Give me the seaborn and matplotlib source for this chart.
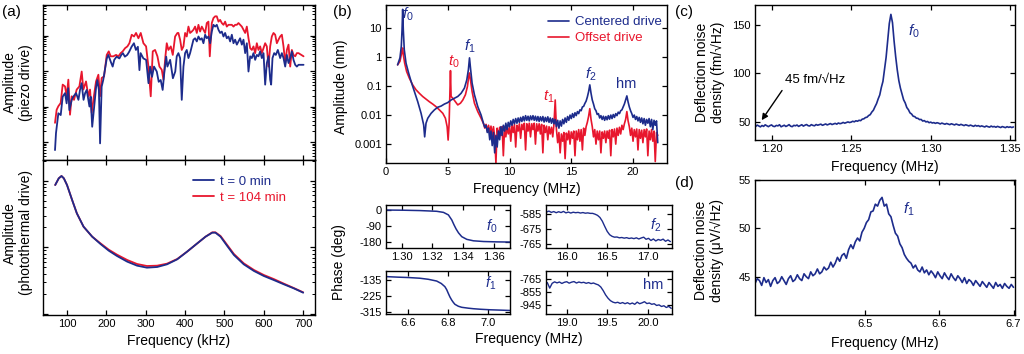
import numpy as np
import matplotlib
matplotlib.use("Agg")
import matplotlib.pyplot as plt
import seaborn as sns
from matplotlib.ticker import LogLocator, NullLocator, NullFormatter, FixedLocator

BLUE = "#1d2c8c"
RED = "#e8162d"

# ---------------- (a) piezo drive, log10 amplitude (a.u.) ----------------
piezo_blue_f = [69.5, 72, 78, 84, 89, 95, 99, 103, 106, 112, 116, 123, 129, 133, 137, 142, 146, 150, 157, 160,
                164, 169, 174, 177, 181, 184, 188, 192, 201, 205, 211, 216, 220, 226, 233, 238, 242, 247, 253, 258,
                264, 270, 275, 280, 284, 287, 294, 301, 307, 311, 316, 321, 328, 333, 338, 343, 347, 352, 355, 362,
                369, 375,
                378.8, 383, 387.3, 391.5, 395.8, 400, 404.2, 408.5, 412.7, 417, 421.2, 425.4, 429.7, 433.9, 438.1,
                442.4, 446.6, 450.9, 455.1, 459.3, 463.6, 467.8, 472, 476.3, 480.5, 484.8, 489, 493.2, 497.5, 501.7,
                505.9, 510.2, 514.4, 518.7, 522.9, 527.1, 531.4, 535.6, 539.8, 544.1, 548.3, 552.6, 556.8, 561,
                565.3, 569.5, 573.7, 578, 582.2, 586.4, 590.7, 594.9, 599.2, 603.4, 607.6, 611.9, 616.1, 618.6, 622,
                626.3, 630.5, 635.6, 641.5, 645.8, 650, 654.3, 658.5, 662.7, 667, 671.2, 675.4, 679.7, 683.9, 688.1,
                700.9]
piezo_blue_log = [0.77, 1.25, 1.81, 1.76, 2.28, 2.38, 2.09, 2.52, 1.90, 2.19, 2.28, 2.38, 2.19, 2.47, 2.66, 2.19,
                  2.38, 2.47, 2.00, 2.28, 1.43, 2.00, 2.56, 2.75, 2.47, 0.96, 2.56, 2.75, 3.36, 3.46, 3.27, 3.13,
                  3.32, 3.41, 3.36, 3.46, 3.51, 3.41, 3.46, 3.55, 3.69, 3.79, 3.60, 3.69, 3.03, 3.51, 3.36, 3.32,
                  2.66, 3.13, 2.84, 3.13, 2.99, 2.70, 2.75, 2.47, 2.94, 3.41, 3.13, 3.32, 2.80, 2.99,
                  3.42, 3.51, 3.37, 2.19, 3.13, 3.51, 3.60, 3.37, 3.51, 3.70, 3.89, 3.93, 3.84, 3.98, 3.89, 3.93,
                  3.79, 4.03, 3.93, 3.98, 3.79, 4.12, 4.31, 4.26, 4.31, 4.17, 4.08, 4.12, 3.98, 4.08, 3.93, 3.98,
                  3.84, 4.03, 3.79, 3.89, 3.75, 3.84, 3.93, 3.75, 3.89, 3.51, 3.79, 2.99, 3.42, 3.37, 3.51, 3.32,
                  3.46, 3.42, 3.56, 3.37, 3.51, 2.62, 3.23, 3.42, 2.76, 2.62, 3.37, 3.51, 3.46, 3.60, 3.37, 3.51,
                  3.37, 3.13, 3.46, 3.23, 3.37, 3.56, 3.32, 3.18, 3.13, 3.18, 3.18]

piezo_red_f = [69.5, 73.7, 78, 83.9, 89, 94.9, 99.2, 103.4, 107.6, 111.9, 117.8, 124.6, 131.4, 137.3, 141.5, 148.3,
               154.2, 158.5, 162.7, 167, 173.7, 179.7, 183.9, 188.1, 194.1, 200.9, 206, 211, 217.8, 224.6, 230.5,
               236.4, 241.5, 247.5, 253.4, 258.5, 264.4, 270.3, 275.4, 281.4, 287.3, 294.1, 300.9, 306.8, 312.7,
               317.8, 323.7, 329.7, 334.8, 340.7, 345, 350, 353.4, 357.6, 363.6, 368.7, 374.6, 380.5,
               383, 387.3, 391.5, 395.8, 400, 404.2, 408.5, 412.7, 417, 421.2, 425.4, 429.7, 433.9, 438.1, 442.4,
               446.6, 450.9, 455.1, 459.3, 462.7, 467.8, 472, 476.3, 480.5, 484.8, 489, 493.2, 497.5, 501.7, 505.9,
               510.2, 514.4, 518.7, 522.9, 527.1, 531.4, 535.6, 539.8, 544.1, 548.3, 552.6, 556.8, 561, 565.3,
               569.5, 573.7, 578, 582.2, 586.4, 590.7, 594.9, 599.2, 603.4, 607.6, 611.9, 616.1, 620.3, 624.6,
               628.8, 633.1, 637.3, 641.5, 645.8, 650, 654.3, 658.5, 662.7, 667, 671.2, 675.4, 679.7, 683.9,
               688.1, 700.9]
piezo_red_log = [1.54, 1.91, 2.01, 2.10, 2.62, 2.57, 2.29, 2.76, 1.77, 2.29, 2.19, 2.48, 2.57, 2.99, 2.48, 2.71,
                 2.29, 2.48, 1.82, 2.19, 2.71, 2.90, 2.29, 2.81, 2.85, 3.46, 3.56, 3.42, 3.42, 3.46, 3.42, 3.51,
                 3.56, 3.65, 3.70, 3.79, 4.03, 3.98, 4.08, 3.93, 4.08, 3.79, 3.70, 3.13, 2.29, 3.56, 3.60, 3.42,
                 3.13, 3.04, 2.76, 3.42, 3.79, 3.60, 3.70, 3.46, 3.98, 4.08,
                 4.08, 3.89, 3.60, 3.70, 4.08, 3.98, 4.26, 4.08, 4.12, 4.17, 4.26, 4.08, 4.31, 4.12, 4.26, 4.17,
                 4.08, 4.36, 4.40, 3.42, 4.36, 4.50, 4.55, 4.55, 4.40, 4.45, 4.36, 4.31, 4.40, 4.26, 4.31, 4.31,
                 4.31, 4.26, 4.31, 4.31, 4.36, 4.31, 4.26, 4.17, 4.08, 4.26, 3.93, 3.65, 3.60, 3.70, 3.51, 3.79,
                 3.60, 3.70, 3.51, 3.65, 3.79, 3.70, 3.13, 3.70, 3.98, 4.08, 4.03, 3.79, 3.89, 3.98, 4.03, 3.70,
                 3.23, 3.60, 3.75, 3.13, 3.60, 3.46, 3.42, 3.51, 3.51, 3.42]

# ---------------- (a) photothermal drive, log10 amplitude (a.u.) ----------------
photo_f = [70, 79, 86, 92, 100, 113, 125, 142, 164, 185, 206, 227, 253, 278, 303, 329, 354, 380, 405, 431,
           452, 469, 477, 490, 507, 524, 549, 575, 600, 625, 651, 676, 700]
photo_blue_log = [0.935, 1.035, 1.07, 1.035, 0.935, 0.71, 0.51, 0.31, 0.16, 0.05, -0.05, -0.13, -0.215, -0.275,
                  -0.305, -0.295, -0.255, -0.18, -0.065, 0.06, 0.16, 0.22, 0.22, 0.16, 0.02, -0.115, -0.255,
                  -0.355, -0.43, -0.49, -0.555, -0.615, -0.68]
photo_red_log = [0.935, 1.035, 1.07, 1.035, 0.935, 0.71, 0.51, 0.31, 0.16, 0.06, -0.035, -0.11, -0.19, -0.25,
                 -0.28, -0.275, -0.245, -0.175, -0.065, 0.06, 0.16, 0.225, 0.225, 0.17, 0.035, -0.10, -0.24,
                 -0.34, -0.415, -0.475, -0.545, -0.61, -0.675]
khz_ticks = [100, 200, 300, 400, 500, 600, 700]

# ---------------- (b) amplitude spectra, log10 amplitude (nm) ----------------
b_blue_f = [0.94, 1.13, 1.24, 1.30, 1.35, 1.40, 1.48, 1.62, 1.83, 2.03, 2.30, 2.57, 2.84, 3.05, 3.13, 3.24, 3.38,
            3.65, 3.92, 4.19, 4.46, 4.73, 5.00, 5.27, 5.54, 5.81, 6.08, 6.35, 6.54, 6.67, 6.76, 6.84, 6.97, 7.16,
            7.43, 7.70]
b_blue_log = [-0.27, -0.03, 0.37, 0.94, 1.64, 0.94, 0.25, -0.21, -0.55, -0.84, -1.19, -1.54, -1.94, -2.34, -2.75,
              -2.28, -2.11, -1.94, -1.82, -1.73, -1.69, -1.62, -1.57, -1.48, -1.42, -1.36, -1.25, -1.07, -0.79,
              -0.44, -0.03, -0.38, -0.90, -1.30, -1.71, -2.00]
b_red_f = [0.94, 1.13, 1.24, 1.30, 1.35, 1.40, 1.51, 1.67, 1.89, 2.16, 2.43, 2.70, 2.97, 3.24, 3.51, 3.78, 4.05,
           4.32, 4.60, 4.81, 4.95, 5.03, 5.11, 5.16, 5.22, 5.27, 5.41, 5.62, 5.81, 6.03, 6.22, 6.43, 6.59, 6.70,
           6.76, 6.84, 6.97, 7.16, 7.43, 7.70]
b_red_log = [-0.27, -0.15, 0.08, 0.25, 0.31, 0.08, -0.21, -0.50, -0.73, -0.96, -1.13, -1.25, -1.36, -1.45, -1.54,
             -1.62, -1.71, -1.82, -1.94, -2.11, -2.40, -2.86, -2.28, -1.48, -0.47, -1.36, -1.42, -1.54, -1.65,
             -1.59, -1.48, -1.30, -1.02, -0.67, -0.55, -0.79, -1.19, -1.59, -1.88, -2.11]
# noisy part, sampled every 0.1 MHz from 7.9 to 22.0 MHz
b_noise_start, b_noise_step = 7.9, 0.1
b_blue_noise_log = [
    -2.30, -2.42, -2.35, -2.60, -2.45, -2.85, -2.55, -3.05, -2.60, -3.30,
    -2.70, -3.10, -2.55, -2.85, -2.40, -2.70, -2.35, -2.55, -2.28, -2.50,
    -2.25, -2.40, -2.20, -2.35, -2.15, -2.30, -2.12, -2.28, -2.10, -2.25,
    -2.08, -2.22, -2.05, -2.20, -2.02, -2.18, -2.04, -2.20, -2.03, -2.16,
    -2.02, -2.18, -2.04, -2.20, -2.05, -2.22, -2.06, -2.20, -2.05, -2.24,
    -2.08, -2.22, -2.06, -2.25, -2.10, -2.28, -2.12, -2.30, -2.15, -2.40,
    -2.18, -2.45, -2.20, -2.38, -2.15, -2.30, -2.10, -2.25, -2.05, -2.18,
    -2.00, -2.12, -1.95, -2.08, -1.92, -2.02, -1.88, -1.95, -1.82, -1.85,
    -1.72, -1.70, -1.60, -1.52, -1.38, -1.20, -0.96, -1.25, -1.48, -1.62,
    -1.78, -1.85, -1.98, -1.95, -2.10, -2.02, -2.15, -2.04, -2.18, -2.05,
    -2.16, -2.02, -2.14, -2.00, -2.12, -1.98, -2.08, -1.95, -2.02, -1.90,
    -1.95, -1.85, -1.82, -1.72, -1.62, -1.48, -1.34, -1.55, -1.72, -1.85,
    -1.95, -2.08, -2.00, -2.15, -2.05, -2.20, -2.08, -2.25, -2.10, -2.30,
    -2.12, -2.35, -2.15, -2.28, -2.12, -2.40, -2.15, -2.50, -2.18, -2.35,
    -2.20, -2.95]
b_red_noise_log = [
    -2.30, -2.45, -2.32, -2.55, -2.35, -2.60, -2.38, -2.70, -2.40, -2.75,
    -3.65, -2.45, -2.80, -2.42, -2.70, -2.40, -3.40, -2.45, -2.75, -2.40,
    -2.65, -2.38, -2.90, -2.35, -2.60, -2.32, -3.10, -2.35, -2.55, -2.30,
    -2.80, -2.32, -2.50, -2.28, -3.20, -2.30, -2.55, -2.28, -2.75, -2.30,
    -2.50, -2.28, -3.00, -2.30, -2.55, -2.30, -2.65, -2.32, -3.30, -2.35,
    -2.60, -2.38, -2.85, -2.40, -2.65, -2.42, -2.75, -2.30, -1.48, -2.50,
    -2.95, -2.60, -3.30, -2.65, -2.90, -2.60, -3.50, -2.62, -2.85, -2.55,
    -3.00, -2.58, -2.80, -2.55, -3.40, -2.55, -2.85, -2.50, -2.90, -2.50,
    -3.20, -2.45, -2.70, -2.40, -2.25, -2.05, -1.78, -2.15, -2.40, -2.75,
    -2.50, -3.00, -2.55, -2.85, -2.55, -3.30, -2.58, -2.80, -2.55, -2.95,
    -2.55, -2.80, -2.52, -3.40, -2.50, -2.75, -2.48, -3.00, -2.45, -2.70,
    -2.42, -2.65, -2.35, -2.50, -2.30, -2.15, -1.88, -2.20, -2.40, -2.70,
    -2.45, -2.90, -2.50, -2.75, -2.48, -3.20, -2.50, -2.80, -2.52, -2.95,
    -2.50, -2.75, -2.48, -3.40, -2.55, -2.85, -2.50, -2.90, -2.55, -3.60,
    -2.60, -2.70]

# ---------------- (b) phase (deg) ----------------
p0_f = [1.2902, 1.3011, 1.312, 1.3228, 1.3272, 1.3304, 1.3326, 1.3341, 1.3354, 1.337, 1.3391, 1.3424, 1.3467,
        1.3533, 1.362, 1.3707]
p0_deg = [0, -1, -3, -7, -13, -27, -55, -83, -105, -127, -148, -163, -171, -175, -177, -178]
p1_f = [6.492, 6.55, 6.60, 6.658, 6.70, 6.742, 6.765, 6.783, 6.792, 6.80, 6.808, 6.817, 6.825, 6.833, 6.85,
        6.867, 6.90, 6.925, 6.96, 7.008, 7.06, 7.108]
p1_deg = [-116, -119, -121, -125, -131, -141, -155, -173, -190, -211, -231, -249, -262, -273, -284, -290, -295,
          -298, -301, -304, -306, -308]
p2_start, p2_step = 15.75, 0.03
p2_deg = [-572, -566, -574, -569, -576, -570, -575, -568, -577, -572, -578, -573, -576, -574, -578, -575, -579,
          -577, -580, -580, -585, -592, -605, -628, -660, -690, -710, -720, -725, -724, -729, -727, -731, -728,
          -733, -730, -734, -729, -736, -730, -725, -738, -732, -745, -736, -748, -739, -744, -737, -750, -742,
          -752]
phm_start, phm_step = 18.76, 0.03
phm_deg = [-790, -828, -795, -785, -792, -786, -796, -788, -784, -794, -787, -783, -793, -786, -791, -788, -795,
           -790, -797, -793, -800, -806, -820, -845, -875, -898, -915, -925, -930, -926, -934, -928, -936, -929,
           -938, -931, -940, -925, -936, -930, -922, -935, -931, -940, -936, -948, -944, -955, -950, -962, -954,
           -968]

# ---------------- (c) noise density f0 (fm/sqrt(Hz)), every 1 kHz from 1.190 MHz ----------------
c_start, c_step = 1.190, 0.001
c_noise = [
    45.0, 46.4, 45.5, 44.6, 46.0, 45.1, 46.7, 45.8, 44.8, 45.9,
    46.6, 45.2, 44.9, 46.1, 45.6, 46.8, 44.7, 45.5, 46.3, 45.0,
    45.8, 46.9, 45.3, 44.8, 46.2, 45.7, 46.5, 45.1, 46.0, 46.8,
    45.4, 46.3, 47.0, 45.8, 45.5, 46.9, 46.1, 45.7, 47.0, 46.3,
    46.8, 47.4, 46.2, 46.9, 47.6, 46.6, 47.3, 48.0, 47.0, 47.6,
    48.2, 47.4, 48.6, 47.9, 48.3, 49.2, 48.4, 49.0, 49.7, 49.1,
    49.5, 50.4, 49.8, 50.9, 50.4, 51.4, 51.0, 52.6, 52.9, 54.2,
    54.6, 56.3, 57.2, 59.9, 61.8, 65.4, 68.7, 73.5, 77.6, 85.4,
    91.6, 104.5, 116.6, 134.5, 151.5, 161.0, 152.5, 133.6, 117.4, 103.6,
    92.4, 84.6, 78.4, 72.6, 69.4, 64.6, 62.4, 59.1, 57.9, 55.6,
    55.2, 53.6, 53.4, 52.1, 52.3, 50.6, 51.1, 49.7, 50.2, 48.9,
    49.5, 48.6, 49.0, 48.2, 48.9, 48.4, 47.6, 48.5, 47.9, 47.3,
    48.1, 47.5, 46.9, 47.8, 47.2, 46.6, 47.5, 46.9, 46.3, 47.2,
    46.6, 45.9, 46.8, 46.2, 45.6, 46.4, 45.8, 45.1, 46.2, 45.4,
    45.9, 44.9, 45.6, 45.1, 44.5, 45.5, 44.8, 44.3, 45.4, 44.6,
    45.0, 44.2, 45.1, 44.5, 43.9, 44.9, 44.3, 43.8, 44.8, 44.1,
    44.6, 43.9, 44.5]

# ---------------- (d) noise density f1 (uV/sqrt(Hz)), every 3 kHz from 6.352 MHz ----------------
d_start, d_step = 6.352, 0.003
d_noise = [
    44.3, 44.8, 44.6, 44.1, 44.9, 44.4, 44.7, 44.0, 44.6, 44.9,
    44.3, 44.5, 45.0, 44.6, 44.2, 44.8, 45.1, 44.5, 44.7, 45.2,
    44.8, 44.6, 45.3, 45.0, 44.8, 45.5, 45.1, 45.3, 45.8, 45.3,
    45.5, 46.0, 45.7, 45.9, 46.5, 46.0, 46.4, 47.0, 46.6, 47.2,
    47.4, 46.9, 47.8, 48.3, 47.9, 48.6, 49.0, 48.7, 49.6, 50.0,
    50.6, 50.9, 51.7, 51.8, 52.5, 52.3, 52.9, 53.2, 52.3, 52.5,
    51.5, 51.2, 50.3, 49.5, 49.2, 48.4, 48.0, 47.3, 46.9, 46.6,
    46.4, 45.9, 46.2, 45.7, 45.5, 46.0, 45.4, 45.7, 45.2, 45.6,
    45.3, 44.9, 45.5, 45.1, 44.8, 45.4, 45.0, 44.7, 45.3, 44.9,
    44.6, 45.1, 44.8, 44.4, 44.9, 44.3, 44.7, 44.5, 44.1, 44.6,
    44.3, 44.0, 44.5, 44.2, 43.9, 44.4, 44.1, 43.8, 44.4, 44.0,
    44.2, 43.8, 44.3, 44.0, 43.8, 44.2, 43.9]

# ---------------- style ----------------
sns.set_style("ticks")
plt.rcParams["font.family"] = ["Liberation Sans", "DejaVu Sans"]
plt.rcParams.update({
    "mathtext.fontset": "custom",
    "mathtext.rm": "Liberation Sans",
    "mathtext.it": "Liberation Sans:italic",
    "axes.unicode_minus": False,
    "axes.linewidth": 1.0,
    "axes.edgecolor": "black",
    "axes.labelcolor": "black",
    "text.color": "black",
    "xtick.color": "black", "ytick.color": "black",
    "xtick.direction": "in", "ytick.direction": "in",
    "xtick.top": True, "ytick.right": True,
    "xtick.major.size": 3.5, "ytick.major.size": 3.5,
    "xtick.minor.size": 2.0, "ytick.minor.size": 2.0,
    "xtick.major.width": 0.9, "ytick.major.width": 0.9,
    "xtick.minor.width": 0.7, "ytick.minor.width": 0.7,
    "xtick.major.pad": 3, "ytick.major.pad": 3,
    "xtick.labelsize": 8, "ytick.labelsize": 8,
    "axes.labelsize": 10,
})

W, H = 1024, 354


def box(l, t, r, b):
    return [l / W, 1 - b / H, (r - l) / W, (b - t) / H]


def trace(ax, x, y, color, lw=1.1):
    sns.lineplot(x=list(x), y=list(y), ax=ax, color=color, linewidth=lw,
                 sort=False, estimator=None, errorbar=None)
    return ax.lines[-1]


fig = plt.figure(figsize=(10.24, 3.54), dpi=100)
ax_a1 = fig.add_axes(box(43, 5, 315, 160))
ax_a2 = fig.add_axes(box(43, 160, 315, 315))
ax_b = fig.add_axes(box(386, 5, 667, 163))
ax_p0 = fig.add_axes(box(386, 205, 510, 248))
ax_p2 = fig.add_axes(box(546, 205, 672, 248))
ax_p1 = fig.add_axes(box(386, 271, 510, 314))
ax_ph = fig.add_axes(box(546, 271, 672, 314))
ax_c = fig.add_axes(box(755, 5, 1015, 140))
ax_d = fig.add_axes(box(755, 180, 1015, 315))

# ---- (a) top
trace(ax_a1, piezo_red_f, 10 ** np.array(piezo_red_log), RED, 1.3)
trace(ax_a1, piezo_blue_f, 10 ** np.array(piezo_blue_log), BLUE, 1.3)
ax_a1.set_yscale("log")
ax_a1.set_ylim(10 ** 0.49, 10 ** 4.87)
ax_a1.set_xlim(39, 730)
ax_a1.set_xticks(khz_ticks)
ax_a1.yaxis.set_major_locator(FixedLocator([1e1, 1e2, 1e3, 1e4]))
ax_a1.yaxis.set_minor_locator(LogLocator(base=10, subs=np.arange(2, 10), numticks=50))
ax_a1.yaxis.set_minor_formatter(NullFormatter())
ax_a1.tick_params(labelbottom=False, labelleft=False)
ax_a1.set_ylabel("Amplitude\n(piezo drive)")
ax_a1.yaxis.set_label_coords(-0.037, 0.5)

# ---- (a) bottom
lr = trace(ax_a2, photo_f, 10 ** np.array(photo_red_log), RED, 1.3)
lb = trace(ax_a2, photo_f, 10 ** np.array(photo_blue_log), BLUE, 1.3)
ax_a2.set_yscale("log")
ax_a2.set_ylim(10 ** -1.015, 10 ** 1.31)
ax_a2.set_xlim(39, 730)
ax_a2.set_xticks(khz_ticks)
ax_a2.yaxis.set_major_locator(FixedLocator([0.1, 1, 10]))
ax_a2.yaxis.set_minor_locator(LogLocator(base=10, subs=np.arange(2, 10), numticks=50))
ax_a2.yaxis.set_minor_formatter(NullFormatter())
ax_a2.tick_params(labelleft=False)
ax_a2.set_ylabel("Amplitude\n(photothermal drive)")
ax_a2.yaxis.set_label_coords(-0.037, 0.53)
ax_a2.set_xlabel("Frequency (kHz)")
ax_a2.xaxis.set_label_coords(0.5, -0.125)
ax_a2.legend(handles=[lb, lr], labels=["t = 0 min", "t = 104 min"], loc="upper left",
             bbox_to_anchor=(0.55, 0.90), frameon=False, fontsize=9.5, handlelength=1.6,
             handletextpad=0.5, labelspacing=0.3, borderaxespad=0, borderpad=0, labelcolor="linecolor")

# ---- (b) amplitude
b_grid = b_noise_start + b_noise_step * np.arange(len(b_blue_noise_log))
lr = trace(ax_b, list(b_red_f) + list(b_grid), 10 ** np.array(b_red_log + b_red_noise_log), RED, 1.2)
lb = trace(ax_b, list(b_blue_f) + list(b_grid), 10 ** np.array(b_blue_log + b_blue_noise_log), BLUE, 1.2)
ax_b.set_yscale("log")
ax_b.set_ylim(10 ** -3.65, 10 ** 1.79)
ax_b.set_xlim(0, 22.75)
ax_b.set_xticks([0, 5, 10, 15, 20])
ax_b.set_yticks([1e-3, 1e-2, 1e-1, 1, 10], labels=["0.001", "0.01", "0.1", "1", "10"])
ax_b.yaxis.set_minor_locator(NullLocator())
ax_b.set_ylabel("Amplitude (nm)")
ax_b.yaxis.set_label_coords(-0.135, 0.48)
ax_b.set_xlabel("Frequency (MHz)")
ax_b.xaxis.set_label_coords(0.5, -0.12)
ax_b.legend(handles=[lb, lr], labels=["Centered drive", "Offset drive"], loc="upper left",
            bbox_to_anchor=(0.575, 0.93), frameon=False, fontsize=9.5, handlelength=1.6,
            handletextpad=0.5, labelspacing=0.3, borderaxespad=0, borderpad=0, labelcolor="linecolor")
for txt, x, y, col in [("$f_0$", 1.8, 30, BLUE), ("$t_0$", 5.46, 0.71, RED), ("$f_1$", 6.76, 2.3, BLUE),
                       ("$t_1$", 13.19, 0.044, RED), ("$f_2$", 16.57, 0.245, BLUE), ("hm", 19.46, 0.12, BLUE)]:
    ax_b.text(x, y, txt, color=col, fontsize=11 if txt != "hm" else 10.5, ha="center", va="center")

# ---- (b) phases
trace(ax_p0, p0_f, p0_deg, BLUE, 1.1)
ax_p0.set_xlim(1.2898, 1.3705)
ax_p0.set_ylim(-211, 28)
ax_p0.set_xticks([1.30, 1.32, 1.34, 1.36], labels=["1.30", "1.32", "1.34", "1.36"])
ax_p0.set_yticks([0, -90, -180])
ax_p0.text(1.3588, -92, "$f_0$", color=BLUE, fontsize=10.5, ha="center", va="center")

trace(ax_p2, p2_start + p2_step * np.arange(len(p2_deg)), p2_deg, BLUE, 1.0)
ax_p2.set_xlim(15.744, 17.30)
ax_p2.set_ylim(-791, -529)
ax_p2.set_xticks([16.0, 16.5, 17.0], labels=["16.0", "16.5", "17.0"])
ax_p2.set_yticks([-585, -675, -765])
ax_p2.text(17.1, -655, "$f_2$", color=BLUE, fontsize=10.5, ha="center", va="center")

trace(ax_p1, p1_f, p1_deg, BLUE, 1.1)
ax_p1.set_xlim(6.489, 7.108)
ax_p1.set_ylim(-328, -84)
ax_p1.set_xticks([6.6, 6.8, 7.0], labels=["6.6", "6.8", "7.0"])
ax_p1.set_yticks([-135, -225, -315])
ax_p1.text(7.009, -154, "$f_1$", color=BLUE, fontsize=10.5, ha="center", va="center")

trace(ax_ph, phm_start + phm_step * np.arange(len(phm_deg)), phm_deg, BLUE, 1.0)
ax_ph.set_xlim(18.744, 20.30)
ax_ph.set_ylim(-1007, -710)
ax_ph.set_xticks([19.0, 19.5, 20.0], labels=["19.0", "19.5", "20.0"])
ax_ph.set_yticks([-765, -855, -945])
ax_ph.text(20.07, -806, "hm", color=BLUE, fontsize=10.5, ha="center", va="center")

fig.text(339 / W, 1 - 262 / H, "Phase (deg)", rotation=90, fontsize=10, ha="center", va="center")
fig.text(529 / W, 1 - 339 / H, "Frequency (MHz)", fontsize=10, ha="center", va="center")

# ---- (c)
trace(ax_c, c_start + c_step * np.arange(len(c_noise)), c_noise, BLUE, 1.2)
ax_c.set_xlim(1.1896, 1.353)
ax_c.set_ylim(31, 170.7)
ax_c.set_xticks([1.20, 1.25, 1.30, 1.35], labels=["1.20", "1.25", "1.30", "1.35"])
ax_c.set_yticks([50, 100, 150])
ax_c.set_ylabel("Deflection noise\ndensity (fm/\u221aHz)")
ax_c.yaxis.set_label_coords(-0.115, 0.5)
ax_c.set_xlabel("Frequency (MHz)")
ax_c.xaxis.set_label_coords(0.5, -0.15)
ax_c.text(1.2896, 143, "$f_0$", color=BLUE, fontsize=11, ha="center", va="center")
ax_c.annotate("45 fm/\u221aHz", xy=(1.1938, 51.5), xytext=(1.2085, 93), fontsize=9.5,
              ha="left", va="center",
              arrowprops=dict(arrowstyle="-|>", color="black", lw=1.0, mutation_scale=9,
                              relpos=(0.0, 0.0), shrinkA=1, shrinkB=0))

# ---- (d)
trace(ax_d, d_start + d_step * np.arange(len(d_noise)), d_noise, BLUE, 1.2)
ax_d.set_xlim(6.352, 6.702)
ax_d.set_ylim(41.04, 55)
ax_d.set_xticks([6.5, 6.6, 6.7], labels=["6.5", "6.6", "6.7"])
ax_d.set_yticks([45, 50, 55])
ax_d.set_ylabel("Deflection noise\ndensity (\u03bcV/\u221aHz)")
ax_d.yaxis.set_label_coords(-0.118, 0.48)
ax_d.set_xlabel("Frequency (MHz)")
ax_d.xaxis.set_label_coords(0.5, -0.155)
ax_d.text(6.5585, 52.0, "$f_1$", color=BLUE, fontsize=11, ha="center", va="center")

# panel letters
for lab, x, y in [("(a)", 2, 12), ("(b)", 333, 12), ("(c)", 675, 12), ("(d)", 675, 183)]:
    fig.text(x / W, 1 - y / H, lab, fontsize=11, ha="left", va="center")

fig.savefig("out.png", dpi=100)
